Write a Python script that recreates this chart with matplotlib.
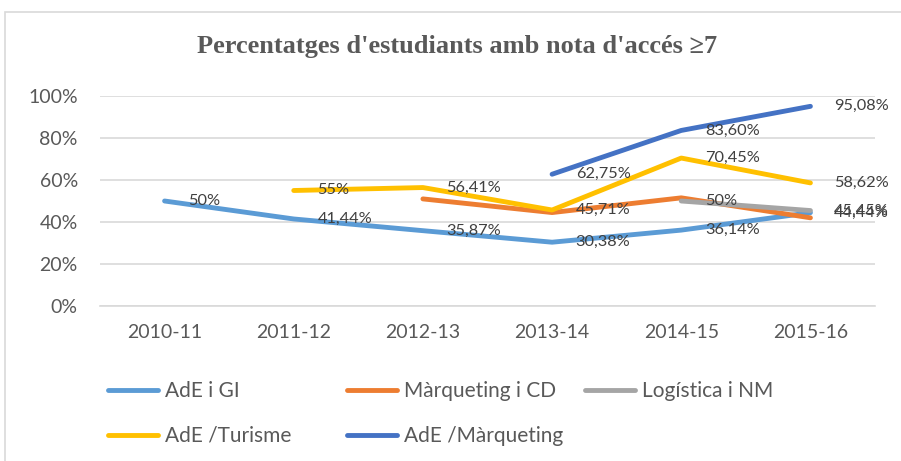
import matplotlib
matplotlib.use("Agg")
import matplotlib.pyplot as plt
from matplotlib.patches import Rectangle

plt.rcParams["font.family"] = ["Lato", "DejaVu Sans"]

years = ["2010-11", "2011-12", "2012-13", "2013-14", "2014-15", "2015-16"]

ade_gi = [0.50, 0.4144, 0.3587, 0.3038, 0.3614, 0.4444]
marq_cd = [None, None, 0.51, 0.445, 0.515, 0.42]
logist_nm = [None, None, None, None, 0.50, 0.4545]
ade_tur = [None, 0.55, 0.5641, 0.4571, 0.7045, 0.5862]
ade_marq = [None, None, None, 0.6275, 0.8360, 0.9508]

# which points carry a data label
labels_gi = ["50%", "41,44%", "35,87%", "30,38%", "36,14%", "44,44%"]
labels_cd = [None] * 6
labels_nm = [None, None, None, None, "50%", "45,45%"]
labels_tur = [None, "55%", "56,41%", "45,71%", "70,45%", "58,62%"]
labels_marq = [None, None, None, "62,75%", "83,60%", "95,08%"]

series = [
    ("AdE i GI", ade_gi, labels_gi, "#5B9BD5"),
    ("Màrqueting i CD", marq_cd, labels_cd, "#ED7D31"),
    ("Logística i NM", logist_nm, labels_nm, "#A5A5A5"),
    ("AdE /Turisme", ade_tur, labels_tur, "#FFC000"),
    ("AdE /Màrqueting", ade_marq, labels_marq, "#4472C4"),
]

fig = plt.figure(figsize=(9.01, 4.61), dpi=100)
fig.patches.append(Rectangle((5 / 901, -0.05), 1.0, 1 - 12 / 461 + 0.05,
                             transform=fig.transFigure, fill=False,
                             edgecolor="#D9D9D9", linewidth=1.2))
ax = fig.add_axes([100 / 901, 1 - 306 / 461, 775 / 901, 210 / 461])

handles = {}
for name, vals, labs, col in series:
    xs = [i for i, v in enumerate(vals) if v is not None]
    ys = [vals[i] for i in xs]
    ln, = ax.plot(xs, ys, color=col, lw=3.5, solid_capstyle="round",
                  solid_joinstyle="round", label=name)
    handles[name] = ln
    for i, lab in enumerate(labs):
        if lab is not None:
            ax.annotate(lab, (i, vals[i]), xytext=(17, 0), textcoords="offset points",
                        ha="left", va="center", fontsize=11.8, color="#404040")

ax.set_xlim(-0.5, 5.5)
ax.set_ylim(0, 1)
ax.set_yticks([0, 0.2, 0.4, 0.6, 0.8, 1.0])
ax.set_yticklabels(["0%", "20%", "40%", "60%", "80%", "100%"])
ax.set_xticks(range(len(years)))
ax.set_xticklabels(years)
ax.tick_params(length=0, labelsize=14, colors="#595959")
ax.tick_params(axis="y", pad=16)
ax.tick_params(axis="x", pad=13)
ax.grid(True, axis="y", color="#D9D9D9", lw=1.2)
ax.set_axisbelow(True)
for s in ["top", "right", "left"]:
    ax.spines[s].set_visible(False)
ax.spines["bottom"].set_color("#D9D9D9")
ax.spines["bottom"].set_linewidth(1.2)

fig.text(0.507, 1 - 47 / 461, "Percentatges d'estudiants amb nota d'accés ≥7",
         ha="center", va="center", fontsize=19, fontweight="bold",
         color="#595959", family=["Liberation Serif", "DejaVu Serif"])

# legend laid out as an even grid, one legend per column
legend_cols = [["AdE i GI", "AdE /Turisme"], ["Màrqueting i CD", "AdE /Màrqueting"],
               ["Logística i NM"]]
col_x = [108, 347, 585]
for names, x0 in zip(legend_cols, col_x):
    leg = fig.legend([handles[n] for n in names], names, loc="upper left",
                     bbox_to_anchor=(x0 / 901, 1 - 381 / 461), frameon=False,
                     fontsize=15, labelcolor="#595959", handlelength=2.4,
                     handletextpad=0.35, labelspacing=1.2, borderpad=0,
                     borderaxespad=0)

fig.savefig("out.png", dpi=100)
